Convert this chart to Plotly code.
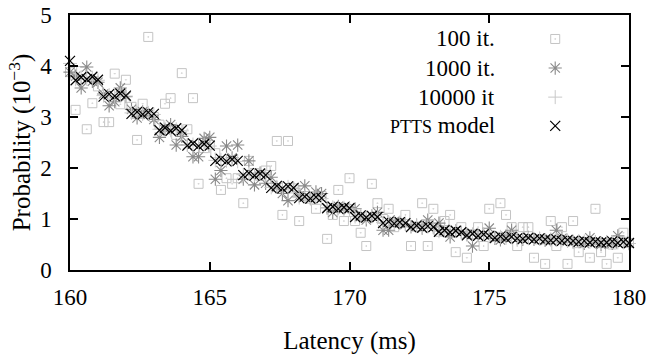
import plotly.graph_objects as go

# ---------------- data ----------------
latency = [
    160.0, 160.2, 160.4, 160.6, 160.8, 161.0, 161.2, 161.4, 161.6, 161.8,
    162.0, 162.2, 162.4, 162.6, 162.8, 163.0, 163.2, 163.4, 163.6, 163.8,
    164.0, 164.2, 164.4, 164.6, 164.8, 165.0, 165.2, 165.4, 165.6, 165.8,
    166.0, 166.2, 166.4, 166.6, 166.8, 167.0, 167.2, 167.4, 167.6, 167.8,
    168.0, 168.2, 168.4, 168.6, 168.8, 169.0, 169.2, 169.4, 169.6, 169.8,
    170.0, 170.2, 170.4, 170.6, 170.8, 171.0, 171.2, 171.4, 171.6, 171.8,
    172.0, 172.2, 172.4, 172.6, 172.8, 173.0, 173.2, 173.4, 173.6, 173.8,
    174.0, 174.2, 174.4, 174.6, 174.8, 175.0, 175.2, 175.4, 175.6, 175.8,
    176.0, 176.2, 176.4, 176.6, 176.8, 177.0, 177.2, 177.4, 177.6, 177.8,
    178.0, 178.2, 178.4, 178.6, 178.8, 179.0, 179.2, 179.4, 179.6, 179.8,
    180.0,
]

prob_100 = [
    3.88, 3.14, 3.90, 2.76, 3.27, 3.60, 2.90, 2.90, 3.85, 3.25,
    3.73, 3.20, 2.55, 3.26, 4.57, 3.00, 2.85, 3.26, 3.37, 2.65,
    3.86, 2.76, 3.37, 1.69, 2.39, 2.45, 2.29, 1.57, 1.80, 1.69,
    1.80, 1.31, 2.14, 1.90, 1.85, 1.95, 2.04, 2.53, 1.08, 2.53,
    1.60, 0.96, 1.45, 1.40, 1.20, 1.45, 0.61, 1.08, 1.57, 0.96,
    1.80, 0.96, 0.73, 0.47, 1.69, 1.31, 1.00, 1.20, 0.84, 0.92,
    1.08, 0.47, 0.85, 1.31, 0.47, 1.20, 0.75, 0.96, 1.08, 0.35,
    0.84, 0.24, 0.70, 0.84, 0.47, 1.20, 0.65, 1.31, 1.08, 0.84,
    0.47, 0.84, 0.84, 0.24, 0.60, 0.12, 0.96, 0.47, 0.84, 0.12,
    0.96, 0.35, 0.55, 0.24, 1.20, 0.35, 0.12, 0.50, 0.24, 0.73,
    0.53,
]

prob_1000 = [
    3.88, 3.80, 3.57, 3.98, 3.70, 3.68, 3.45, 3.22, 3.30, 3.57,
    3.40, 3.15, 2.98, 3.10, 3.05, 2.95, 2.60, 2.75, 2.85, 2.45,
    2.62, 2.45, 2.22, 2.22, 2.58, 2.60, 1.78, 1.95, 2.43, 2.20,
    2.45, 1.78, 2.14, 1.67, 1.90, 1.70, 1.82, 1.62, 1.50, 1.36,
    1.60, 1.45, 1.65, 1.40, 1.53, 1.50, 1.22, 1.13, 1.25, 1.20,
    1.22, 1.20, 1.05, 0.98, 1.06, 1.13, 0.78, 0.78, 0.95, 0.92,
    0.90, 0.85, 0.88, 0.82, 0.98, 0.84, 0.92, 0.80, 0.65, 0.77,
    0.74, 0.70, 0.47, 0.68, 0.70, 0.82, 0.62, 0.59, 0.66, 0.78,
    0.62, 0.60, 0.64, 0.60, 0.62, 0.58, 0.60, 0.78, 0.62, 0.57,
    0.55, 0.56, 0.52, 0.63, 0.54, 0.50, 0.55, 0.52, 0.67, 0.55,
    0.52,
]

prob_10000 = [
    4.05, 3.74, 3.76, 3.75, 3.77, 3.72, 3.42, 3.43, 3.40, 3.44,
    3.41, 3.08, 3.08, 3.06, 3.08, 3.05, 2.76, 2.77, 2.74, 2.76,
    2.73, 2.45, 2.46, 2.44, 2.46, 2.43, 2.15, 2.16, 2.14, 2.16,
    2.13, 1.87, 1.88, 1.86, 1.88, 1.85, 1.62, 1.63, 1.61, 1.63,
    1.60, 1.42, 1.43, 1.41, 1.42, 1.40, 1.22, 1.23, 1.21, 1.22,
    1.20, 1.05, 1.06, 1.04, 1.05, 1.03, 0.93, 0.94, 0.92, 0.93,
    0.91, 0.85, 0.86, 0.84, 0.85, 0.83, 0.76, 0.77, 0.75, 0.76,
    0.73, 0.69, 0.70, 0.68, 0.69, 0.66, 0.64, 0.65, 0.63, 0.64,
    0.61, 0.62, 0.62, 0.61, 0.61, 0.59, 0.59, 0.59, 0.58, 0.58,
    0.56, 0.56, 0.56, 0.55, 0.55, 0.53, 0.55, 0.55, 0.54, 0.54,
    0.52,
]

prob_model = [
    4.10, 3.72, 3.78, 3.74, 3.79, 3.73, 3.40, 3.45, 3.41, 3.46,
    3.42, 3.06, 3.10, 3.05, 3.09, 3.06, 2.74, 2.79, 2.73, 2.78,
    2.74, 2.44, 2.48, 2.43, 2.47, 2.44, 2.14, 2.18, 2.13, 2.17,
    2.14, 1.86, 1.90, 1.85, 1.89, 1.86, 1.61, 1.65, 1.60, 1.64,
    1.61, 1.41, 1.44, 1.40, 1.43, 1.41, 1.21, 1.24, 1.20, 1.23,
    1.21, 1.04, 1.07, 1.03, 1.06, 1.04, 0.92, 0.95, 0.91, 0.94,
    0.92, 0.84, 0.87, 0.83, 0.86, 0.84, 0.75, 0.78, 0.74, 0.77,
    0.74, 0.68, 0.71, 0.67, 0.70, 0.67, 0.63, 0.66, 0.62, 0.65,
    0.62, 0.61, 0.63, 0.60, 0.62, 0.60, 0.58, 0.60, 0.57, 0.59,
    0.57, 0.55, 0.57, 0.54, 0.56, 0.54, 0.54, 0.56, 0.53, 0.55,
    0.53,
]

series_labels = ["100 it.", "1000 it.", "10000 it",
                 '<span style="font-size:18px">PTTS</span> model']

x_ticks = [160, 165, 170, 175, 180]
y_ticks = [0, 1, 2, 3, 4, 5]

# ---------------- styles ----------------
FONT = "Liberation Serif"
FS_TICK = 23
FS_TITLE = 25
FS_LEG = 23
styles = [
    dict(symbol="square-open-dot", size=9, color="#c4c4c4", line=dict(width=1, color="#c4c4c4")),
    dict(symbol="asterisk-open", size=11, color="#8a8a8a", line=dict(width=1.1, color="#8a8a8a")),
    dict(symbol="cross-thin-open", size=10, color="#c8c8c8", line=dict(width=1, color="#c8c8c8")),
    dict(symbol="x-thin-open", size=10, color="#000000", line=dict(width=1.2, color="#000000")),
]
series = [prob_100, prob_1000, prob_10000, prob_model]

fig = go.Figure()
for vals, st in zip(series, styles):
    fig.add_trace(go.Scatter(x=latency, y=vals, mode="markers", marker=st,
                             cliponaxis=False, showlegend=False, hoverinfo="skip"))

# legend keys, drawn on an overlay axis pair in plot-area fractions
key_x = 0.868
key_y = [0.906, 0.792, 0.678, 0.565]
text_x = 0.764
for lab, st, ky in zip(series_labels, styles, key_y):
    fig.add_trace(go.Scatter(x=[key_x], y=[ky], mode="markers", marker=st,
                             xaxis="x2", yaxis="y2", showlegend=False,
                             hoverinfo="skip", cliponaxis=False))
    fig.add_annotation(x=text_x, y=ky, xref="paper", yref="paper", text=lab,
                       showarrow=False, xanchor="right", yanchor="middle",
                       font=dict(family=FONT, size=FS_LEG, color="black"))

axis_common = dict(showline=True, linecolor="black", linewidth=1.5, mirror="ticks",
                   ticks="inside", ticklen=8, tickwidth=1.5, tickcolor="black",
                   showgrid=False, zeroline=False, automargin=False,
                   tickfont=dict(family=FONT, size=FS_TICK, color="black"))

fig.update_layout(
    width=665, height=356,
    margin=dict(l=70, r=36, t=15, b=86),
    paper_bgcolor="white", plot_bgcolor="white",
    font=dict(family=FONT, size=FS_TICK, color="black"),
    xaxis=dict(range=[160, 180], tickvals=x_ticks, ticklabelstandoff=6,
               title=dict(text="Latency (ms)", standoff=22,
                          font=dict(family=FONT, size=FS_TITLE)),
               **axis_common),
    yaxis=dict(range=[0, 5], tickvals=y_ticks, ticklabelstandoff=12,
               title=dict(text="Probability (10<sup>−3</sup>)", standoff=2,
                          font=dict(family=FONT, size=FS_TITLE)),
               **axis_common),
    xaxis2=dict(domain=[0, 1], range=[0, 1], visible=False, anchor="y2", overlaying="x"),
    yaxis2=dict(domain=[0, 1], range=[0, 1], visible=False, anchor="x2", overlaying="y"),
)

fig.write_html("out.html")
